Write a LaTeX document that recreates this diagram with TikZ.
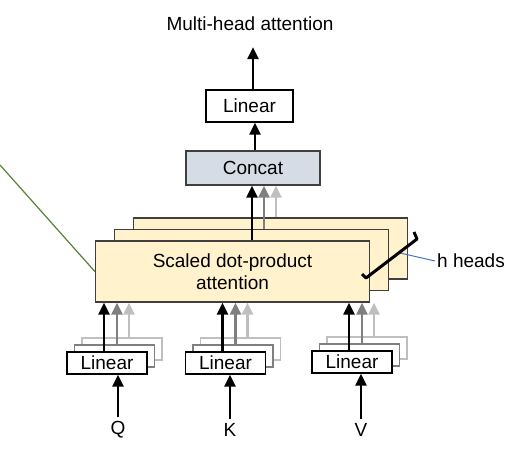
\documentclass[tikz,border=0pt]{standalone}
\usepackage{fontspec}
\setmainfont{Liberation Sans}
\usetikzlibrary{arrows.meta,positioning}
\definecolor{attfill}{HTML}{FFF2CC}
\definecolor{catfill}{HTML}{D6DCE5}
\definecolor{boxline}{HTML}{3F3F3F}
\definecolor{midgray}{HTML}{7F7F7F}
\definecolor{ltgray}{HTML}{BFBFBF}
\definecolor{leafgreen}{HTML}{548235}
\definecolor{headblue}{HTML}{4472C4}

\begin{document}
\begin{tikzpicture}[x=1pt,y=-1pt,% pixel grid of the reference, y going down
			every node/.style={
				align=center,  		% lets "\\" break the line
				font=\fontsize{19}{22}\selectfont,
				inner sep=0pt
			},
			attbox/.style={rectangle,draw=boxline,line width=1.3pt,fill=attfill,minimum width=274pt,minimum height=61pt},
			linbox/.style={rectangle,draw=#1,line width=1.2pt,fill=white,minimum width=80pt,minimum height=22pt},
			uparrow/.style={draw=#1,line width=2.5pt,-{Triangle[length=12pt,width=11pt]}},
			inlabel/.style={inner sep=4pt}
		]
		\useasboundingbox (0,0) rectangle (519,454);
		% output side
		\node(title) [inner ysep=16pt] at (250,24) {Multi-head attention};
		\node[rectangle,draw=black,line width=1.3pt,fill=white,minimum width=87pt,minimum height=32pt](lin) at (249.5,106) {Linear};
		\node[rectangle,draw=boxline,line width=1.3pt,fill=catfill,minimum width=134pt,minimum height=34pt](concat) at (253,168) {Concat};
		% the h stacked heads, back one first
		\node[attbox](a3) at (270.5,248.5) {};
		\node[attbox](a2) at (251.5,260) {};
		\node[attbox](a1) at (232.5,271.5) {Scaled dot-product\\attention};
		% linear projections of Q, K and V
		\node[linbox=ltgray](q3) at (122,349) {};
		\node[linbox=midgray](q2) at (114.5,356) {};
		\node[linbox=black](q1) at (107,363) {Linear};
		\node[linbox=ltgray](k3) at (240.5,349) {};
		\node[linbox=midgray](k2) at (233,356) {};
		\node[linbox=black](k1) at (225.5,363) {Linear};
		\node[linbox=ltgray](v3) at (367,348) {};
		\node[linbox=midgray](v2) at (359.5,355) {};
		\node[linbox=black](v1) at (352,362) {Linear};
		\node[inlabel](q) at (118,430) {Q};
		\node[inlabel](k) at (230,430) {K};
		\node[inlabel](v) at (361,430) {V};
		\node(heads)[anchor=west,inner sep=2pt] at (435,261) {h heads};
		\coordinate (hmark) at (400,253);
		\coordinate (gstart) at (0,165);

		\draw[uparrow=black] ([xshift=3.5pt]lin.north) -- ([xshift=3.5pt]lin.north |- title.south);
		\draw[uparrow=black] ([xshift=2pt]concat.north) -- ([xshift=2pt]concat.north |- lin.south);
		\draw[uparrow=black] ([xshift=-1pt]concat.south |- a1.north) -- ([xshift=-1pt]concat.south);
		\draw[uparrow=midgray] ([xshift=11pt]concat.south |- a2.north) -- ([xshift=11pt]concat.south);
		\draw[uparrow=ltgray] ([xshift=23pt]concat.south |- a3.north) -- ([xshift=23pt]concat.south);

		\draw[uparrow=black] ([xshift=-3pt]q1.north) -- ([xshift=-3pt]q1.north |- a1.south);
		\draw[uparrow=midgray] ([xshift=10pt]q1.north |- q2.north) -- ([xshift=10pt]q1.north |- a1.south);
		\draw[uparrow=ltgray] ([xshift=22pt]q1.north |- q3.north) -- ([xshift=22pt]q1.north |- a1.south);
		\draw[uparrow=black] ([xshift=-3pt]k1.north) -- ([xshift=-3pt]k1.north |- a1.south);
		\draw[uparrow=midgray] ([xshift=10pt]k1.north |- k2.north) -- ([xshift=10pt]k1.north |- a1.south);
		\draw[uparrow=ltgray] ([xshift=22pt]k1.north |- k3.north) -- ([xshift=22pt]k1.north |- a1.south);
		\draw[uparrow=black] ([xshift=-3pt]v1.north) -- ([xshift=-3pt]v1.north |- a1.south);
		\draw[uparrow=midgray] ([xshift=10pt]v1.north |- v2.north) -- ([xshift=10pt]v1.north |- a1.south);
		\draw[uparrow=ltgray] ([xshift=22pt]v1.north |- v3.north) -- ([xshift=22pt]v1.north |- a1.south);

		\draw[uparrow=black] (q.north) -- (q.north |- q1.south);
		\draw[uparrow=black] (k.north) -- (k.north |- k1.south);
		\draw[uparrow=black] (v.north) -- (v.north |- v1.south);

		\draw[headblue,line width=1pt] (hmark) -- (heads.west);
		\draw[black,line width=3pt,line join=round] (362,274) -- (366,278) -- (417,239) -- (414,232);
		\draw[leafgreen,line width=1.2pt] (gstart) -- (a1.west);
	\end{tikzpicture}
\end{document}
